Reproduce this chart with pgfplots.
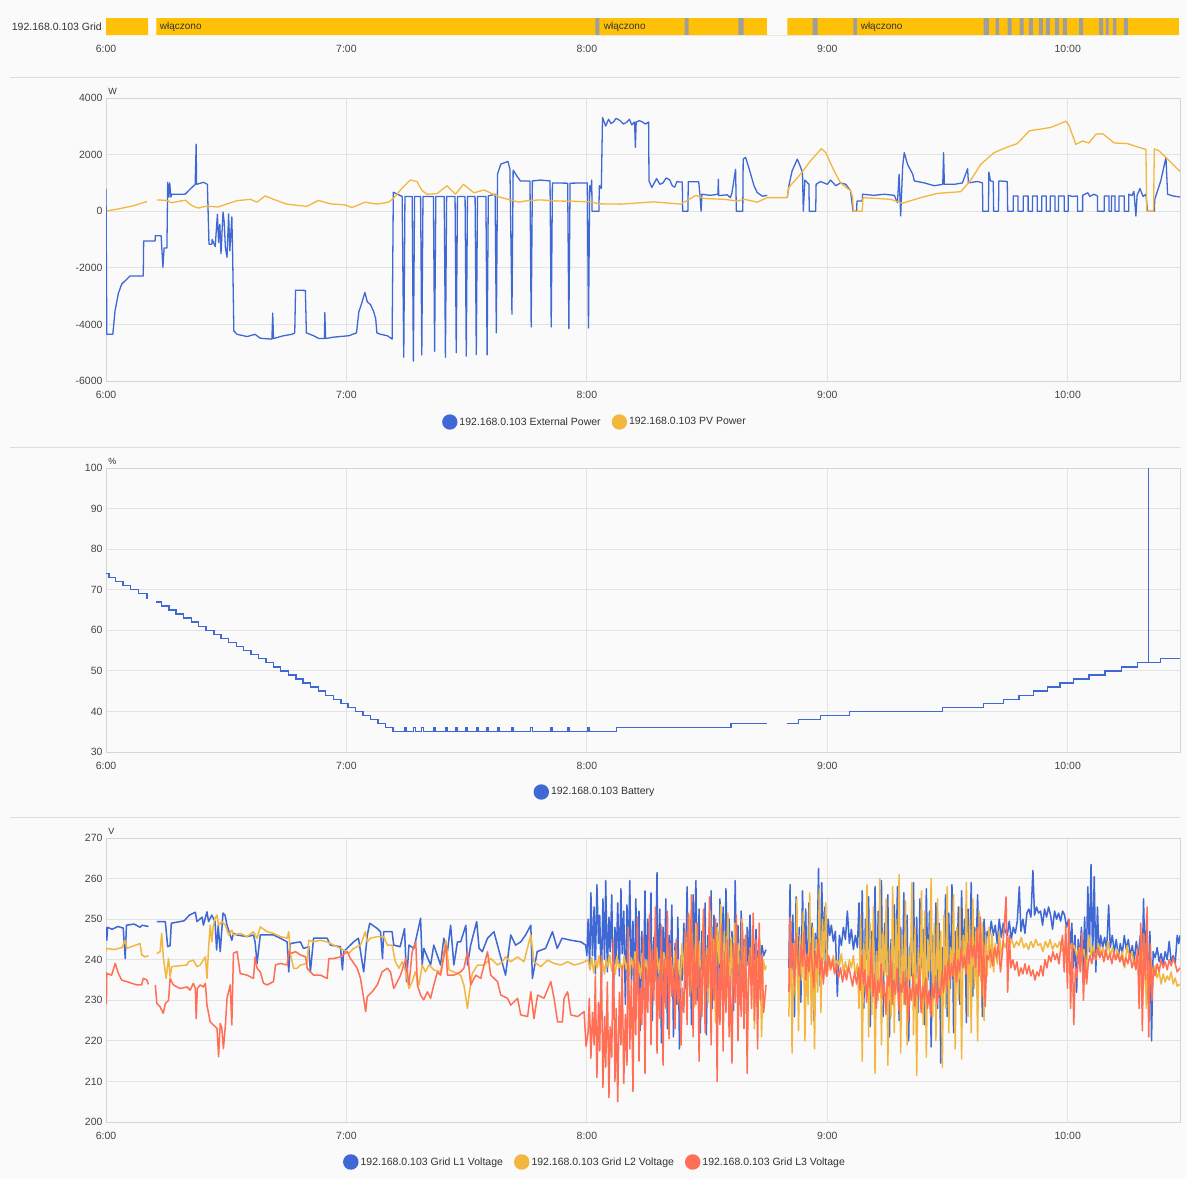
\documentclass[border=0pt]{standalone}
\usepackage{fontspec}
\setmainfont{Liberation Sans}
\usepackage{pgfplots}
\pgfplotsset{compat=1.18}
\definecolor{bgc}{HTML}{FAFAFA}
\definecolor{gridc}{HTML}{E3E3E3}
\definecolor{axisc}{HTML}{D5D5D5}
\definecolor{tickc}{HTML}{444444}
\definecolor{legc}{HTML}{333333}
\definecolor{sepc}{HTML}{DDDDDD}
\definecolor{c1}{HTML}{4068D5}
\definecolor{c2}{HTML}{F3B740}
\definecolor{c3}{HTML}{FF6E55}
\definecolor{amber}{HTML}{FFC107}
\definecolor{stripe}{HTML}{9E9E9E}
\pgfplotsset{
  panel/.style={
    scale only axis, width=1074pt, xmin=0, xmax=268,
    xtick={0,60,120,180,240}, xticklabels={6:00,7:00,8:00,9:00,10:00},
    axis line style={draw=axisc, line width=0.8pt},
    grid=major, major grid style={draw=gridc, line width=0.9pt},
    major tick length=0pt,
    clip mode=individual,
    tick label style={font=\fontsize{10.5}{12}\selectfont, text=tickc},
    xticklabel style={yshift=-6.5pt},
    unbounded coords=jump,
    legend columns=-1,
    legend style={draw=none, fill=none, font=\fontsize{10.5}{12}\selectfont, text=legc, anchor=center,
      /tikz/every even column/.append style={column sep=9pt}},
    legend image code/.code={\fill[##1] (0pt,0pt) circle (7pt);},
  }
}
\begin{document}
\begin{tikzpicture}
\path[use as bounding box, fill=bgc] (0pt,0pt) rectangle (1186pt,-1178pt);
\draw[sepc, line width=1pt] (10pt,-77pt) -- (1180pt,-77pt);
\draw[sepc, line width=1pt] (10pt,-447pt) -- (1180pt,-447pt);
\draw[sepc, line width=1pt] (10pt,-817pt) -- (1180pt,-817pt);
\node[anchor=east, inner sep=0pt, font=\fontsize{10.5}{12}\selectfont, text=legc] at (102pt,-26.5pt) {192.168.0.103 Grid};

% ---------- timeline ----------
\begin{axis}[panel, at={(106pt,-35pt)}, anchor=south west, height=17pt,
  ymin=0, ymax=1, ytick=\empty, grid=none, axis line style={draw=none}]
\addplot[ybar interval, fill=amber, draw=none] coordinates {(0,1) (10.5,0) (12.6,1) (164.9,0) (170.0,1) (267.7,1)};
\addplot[ybar interval, fill=stripe, draw=none] coordinates {
(122.1,1)(123.1,0)(144.4,1)(145.4,0)(157.8,1)(159.1,0)(176.3,1)(177.6,0)(186.5,1)(187.4,0)
(219.0,1)(220.3,0)(222.0,1)(222.8,0)(225.0,1)(226.0,0)(228.0,1)(229.0,0)(230.3,1)(231.3,0)
(232.8,1)(233.8,0)(234.5,1)(235.5,0)(236.8,1)(237.8,0)(238.8,1)(239.8,0)(242.8,1)(243.8,0)
(247.8,1)(248.8,0)(249.5,1)(250.2,0)(251.3,1)(252.1,0)(254.0,1)(255.0,0)};
\node[anchor=west, inner sep=0pt, font=\fontsize{10}{12}\selectfont, text=legc] at (axis cs:13.4,0.5) {włączono};
\node[anchor=west, inner sep=0pt, font=\fontsize{10}{12}\selectfont, text=legc] at (axis cs:124.2,0.5) {włączono};
\node[anchor=west, inner sep=0pt, font=\fontsize{10}{12}\selectfont, text=legc] at (axis cs:188.3,0.5) {włączono};
\end{axis}

% ---------- power ----------
\begin{axis}[panel, at={(106pt,-381pt)}, anchor=south west, height=283pt,
  ymin=-6000, ymax=4000, ytick={-6000,-4000,-2000,0,2000,4000},
  yticklabels={-6000,-4000,-2000,0,2000,4000},
  legend style={at={(0.4553,-0.1449)}}]
\addplot[c1, line width=1.3pt, line join=round] coordinates {
(0.0,800)(0.2,-4350)(1.7,-4350)(2.25,-3520)(3.1,-2900)(3.9,-2580)(5.2,-2400)(6.0,-2290)(9.3,-2290)(9.4,-1050)
(12.25,-1050)(12.3,-870)(13.75,-870)(14.2,-1980)(14.5,-1300)(15.2,-1300)(15.4,1020)(15.7,500)(15.9,1000)(16.2,500)
(16.4,600)(19.75,600)(21,780)(22.25,950)(22.5,2370)(22.6,950)(24.3,1020)(25.3,950)(25.7,-1170)(26.4,-1170)
(26.5,-1000)(27.25,-1250)(27.8,-110)(28.1,-1100)(28.4,-460)(28.7,-1500)(29.2,-30)(29.5,-400)(29.8,-1300)(30.2,-1630)
(30.6,-100)(30.9,-1400)(31.4,-200)(31.6,-1500)(31.9,-4230)(32.7,-4350)(35.2,-4430)(37.2,-4350)(38.5,-4490)(41.4,-4520)
(41.6,-3600)(41.8,-4500)(44.3,-4400)(46.4,-4350)(47.1,-4300)(47.3,-2790)(49.75,-2800)(50,-4300)(51.8,-4400)(53.1,-4500)
(54.5,-4500)(54.6,-3580)(54.8,-4500)(56.8,-4450)(60.6,-4400)(62.5,-4300)(63.1,-3550)(63.7,-3300)(64.6,-2870)(65.2,-3200)
(66,-3300)(66.8,-3550)(67.3,-3800)(67.6,-4300)(68.5,-4350)(70.2,-4400)(71.4,-4520)(71.7,670)(73.9,520)(74.3,-5160)
(74.6,520)(76.4,520)(76.7,-5300)(77.0,520)(78.5,520)(78.8,-5080)(79.1,520)(81.7,520)(82.0,-4950)(82.3,520)
(84.4,520)(84.7,-5160)(85.0,520)(87.1,520)(87.4,-5000)(87.7,520)(89.6,520)(89.9,-5120)(90.2,520)(92.1,520)
(92.4,-5060)(92.7,520)(94.8,520)(95.1,-5080)(95.4,540)(97.1,600)(97.4,-4300)(97.7,1310)(98.5,1660)(100.3,1760)
(100.8,1480)(101.3,-3640)(101.6,1450)(102.5,1250)(103.4,1070)(105.8,1070)(106.1,-4090)(106.4,1070)(108.4,1100)(110.8,1070)
(111.1,-4090)(111.4,1000)(115.2,990)(115.5,-4150)(115.8,990)(120.1,1000)(120.4,-4130)(120.7,900)(121.0,700)(121.2,1100)
(121.3,0)(123.0,0)(123.1,900)(123.6,800)(123.9,3310)(124.7,3010)(125.4,3250)(126.0,3100)(126.6,3150)(127.3,3280)
(128.3,3200)(129.1,3080)(130.0,3150)(130.6,3250)(131.2,3050)(131.9,3150)(132.1,2260)(132.3,3150)(133.1,3200)(133.9,3150)
(134.6,3080)(135.4,3150)(135.5,1070)(136.2,840)(137.4,1150)(138.2,950)(139.0,1000)(139.8,1180)(140.7,1100)(141.3,900)
(141.9,850)(142.5,1050)(143.1,1030)(143.8,1030)(143.9,0)(145.2,0)(145.3,1040)(147.9,1040)(148.2,600)(148.5,0)
(148.7,600)(150.8,560)(152.7,600)(152.8,1130)(152.9,550)(155.0,580)(155.8,480)(156.2,650)(157.1,1480)(157.3,0)
(158.9,0)(159.0,1840)(159.6,1900)(160.4,1540)(161.7,900)(162.5,660)(163.8,530)(165.0,560)(167,nan)
(170.0,480)(170.4,900)(171.2,1420)(172.5,1840)(173.2,1600)(173.8,1370)(174.0,0)(174.4,1100)(175.4,950)(175.5,0)
(177.1,0)(177.2,950)(178.3,1050)(180.0,950)(180.8,1100)(182.1,900)(183.3,1000)(184.6,950)(185.8,720)(186.4,0)
(187.3,0)(187.4,360)(188.7,360)(188.8,600)(191.6,560)(194.2,600)(196.7,560)(197.5,300)(197.9,1300)(198.3,-170)
(198.8,1600)(199.2,2070)(200.0,1660)(201.3,1310)(201.7,1070)(204.2,1000)(206.7,900)(208.8,950)(209.0,2070)(209.2,950)
(211.7,950)(213.7,1000)(215.0,1500)(215.2,1000)(217.5,1050)(218.7,1000)(218.8,0)(220.2,0)(220.3,1380)(220.7,1070)
(221.4,1050)(221.5,0)(222.7,0)(222.8,1070)(224.9,1050)(225.0,0)(226.4,0)(226.4,540)(227.6,540)(227.6,0)
(228.9,0)(228.9,540)(230.1,540)(230.1,0)(231.2,0)(231.2,540)(232.4,540)(232.4,0)(233.5,0)(233.5,540)
(234.6,540)(234.6,0)(235.6,0)(235.6,540)(236.8,540)(236.8,0)(237.7,0)(237.7,540)(239.1,540)(239.1,0)
(240.1,0)(240.1,560)(241.2,520)(242.4,540)(242.4,0)(243.7,0)(243.7,560)(245.0,650)(245.5,520)(246.5,600)
(247.4,540)(247.4,0)(249.1,0)(249.1,540)(250.3,540)(250.3,0)(250.9,0)(250.9,540)(251.8,540)(251.8,0)
(252.8,0)(252.8,540)(254.1,540)(254.1,0)(255.2,0)(255.2,600)(256.0,550)(256.5,700)(257.0,-170)(257.3,560)
(258.0,800)(258.8,520)(259.5,600)(259.9,0)(261.6,0)(261.7,420)(263.2,1070)(264.5,1900)(264.9,600)(266.2,540)(268.0,500)};
\addlegendentry{192.168.0.103 External Power}
\addplot[c2, line width=1.3pt, line join=round] coordinates {
(0.2,10)(2.7,70)(6.8,190)(10.2,340)(11,nan)(12.7,400)(15.2,380)(16.4,300)(19.75,390)(21.4,200)
(23.0,110)(25.1,180)(28.0,150)(30.1,250)(32.6,370)(36.0,420)(37.7,320)(39.7,540)(41.8,420)(45.1,250)
(50.1,170)(53.0,380)(56.0,260)(59.7,220)(61.4,130)(64.7,320)(67.6,250)(70.5,320)(71.7,450)(73.8,800)
(75.9,1100)(77.6,1050)(78.8,740)(80.1,600)(82.6,620)(85.1,900)(87.2,600)(89.2,950)(91.8,650)(94.3,750)
(96.7,600)(98.4,490)(103.0,320)(105.0,370)(108.4,400)(112.6,360)(116.7,350)(120.9,330)(123.0,260)(128.4,250)
(136.7,330)(143.4,250)(145.9,450)(147.2,560)(149.2,450)(154.2,420)(157.6,360)(159.3,420)(162.5,320)(165.0,480)
(170.0,480)(170.4,840)(173.3,1310)(175.8,1780)(177.5,2050)(178.5,2210)(179.6,2070)(181.7,1420)(183.3,1000)(185.8,720)
(186.3,500)(186.5,0)(188.7,0)(188.9,480)(195.8,420)(198.7,280)(203.3,480)(207.5,630)(213.3,690)(215.8,1100)
(218.3,1660)(221.6,2070)(225.0,2270)(227.4,2390)(230.4,2840)(235.8,2960)(237.5,3060)(239.5,3180)(240.3,3030)(242.0,2360)
(243.7,2480)(245.3,2410)(247.0,2720)(248.7,2740)(251.6,2410)(254.9,2390)(257.4,2270)(259.5,2180)(259.7,0)(261.4,0)
(261.6,2200)(262.8,2130)(264.1,1950)(266.2,1660)(268.0,1400)};
\addlegendentry{192.168.0.103 PV Power}
\node[anchor=south west, inner sep=0pt, font=\fontsize{9}{10}\selectfont, text=legc] at (rel axis cs:0.002,1.012) {W};
\end{axis}

% ---------- battery ----------
\begin{axis}[panel, at={(106pt,-752pt)}, anchor=south west, height=284pt,
  ymin=30, ymax=100, ytick={30,40,50,60,70,80,90,100},
  yticklabels={30,40,50,60,70,80,90,100},
  legend style={at={(0.4553,-0.1408)}}]
\addplot[c1, line width=1.4pt, const plot] coordinates {
(0,74)(0.7,73)(2.3,72)(4.2,71)(6.1,70)(8.1,69)(10.2,68)(10.5,68)(11,nan)
(12.5,67)(13.8,66)(15.7,65)(17.5,64)(19.4,63)(21.3,62)(23.1,61)(25.0,60)(26.9,59)(28.7,58)
(30.6,57)(32.5,56)(34.3,55)(36.2,54)(38.0,53)(39.9,52)(41.8,51)(43.6,50)(45.5,49)(47.4,48)
(49.2,47)(51.1,46)(53.0,45)(54.8,44)(56.7,43)(58.6,42)(60.4,41)(62.3,40)(64.1,39)(66.0,38)
(67.9,37)(69.7,36)(71.6,35)
(74.6,36)(75.0,35)(76.8,36)(77.2,35)(78.8,36)(79.2,35)(81.8,36)(82.2,35)(84.7,36)(85.1,35)
(87.3,36)(87.7,35)(89.7,36)(90.1,35)(92.4,36)(92.8,35)(94.9,36)(95.3,35)(97.7,36)(98.1,35)
(101.3,36)(101.7,35)(106.0,36)(106.4,35)(110.9,36)(111.3,35)(115.3,36)(115.7,35)(120.3,36)(120.7,35)
(127.4,36)(156.0,37)(165.0,37)(167,nan)
(170.0,37)(172.8,38)(178.3,39)(185.6,40)(208.7,41)(219.0,42)(223.9,43)(227.8,44)(231.4,45)(234.9,46)
(238.1,47)(241.4,48)(245.3,49)(249.3,50)(253.4,51)(257.4,52)(260.1,100)(260.2,52)(263.2,53)(268,53)};
\addlegendentry{192.168.0.103 Battery}
\node[anchor=south west, inner sep=0pt, font=\fontsize{9}{10}\selectfont, text=legc] at (rel axis cs:0.002,1.012) {\%};
\end{axis}

% ---------- voltage ----------
\begin{axis}[panel, at={(106pt,-1122pt)}, anchor=south west, height=284pt,
  ymin=200, ymax=270, ytick={200,210,220,230,240,250,260,270},
  yticklabels={200,210,220,230,240,250,260,270},
  legend style={at={(0.4553,-0.1408)}}]
\addplot[c1, line width=1.5pt, line join=round] coordinates {
(0,248)(0.2,244.8)(0.4,248)(1.5,247.5)(3,248.2)(4.3,247.8)(4.8,240.3)(5.1,248.5)(7,248.8)(8.5,248)
(9,248.5)(10.6,248.2)(11.5,nan)(12.7,249.4)(14.8,249.4)(15.4,243.2)(16,243.5)(16.3,249)(19.5,249.6)(20.8,251)
(22.3,251.7)(22.7,249.4)(24,250.5)(24.3,248.5)(25.2,251.8)(25.6,249.4)(26.4,251)(27.2,249.4)(27.6,242.4)(28,248.5)
(28.5,242)(29.2,251.5)(29.7,251)(30.2,248.5)(31.4,244.8)(31.8,246.5)(32.7,246.1)(35.2,245.7)(36.8,246.1)(37.2,244.4)
(37.7,239.1)(38.5,246.1)(41.8,246.1)(43.5,245.3)(45.2,244.4)(45.6,237)(46,244)(48.5,244.4)(49.3,242.8)(50.6,243.2)
(51,237)(51.8,245.3)(55.2,245.3)(56,243.6)(58.5,243.2)(59,237.5)(59.3,242)(61.8,244.4)(63,245.3)(64.3,237)
(65.2,246)(65.8,249)(67.7,247.7)(68.5,246.9)(69,240.3)(69.3,246.9)(71.4,246.9)(71.8,243.6)(73.4,243.2)(74.5,247.7)
(75,234.6)(75.6,243.6)(76.8,242.8)(77.2,244.4)(78.5,250.2)(78.9,238.7)(79.3,242.8)(81,238.7)(81.8,243.6)(83.5,238.7)
(84.3,245.3)(85.2,242)(86,248.5)(86.8,238.7)(87.7,244.4)(88.5,244.4)(89.8,248.5)(90.2,238.7)(91,243.6)(92.5,249.4)
(93.1,242.8)(93.9,242)(95.2,245.3)(96.8,246.9)(97.7,243.6)(99.7,236.2)(101,246.1)(102.2,243.6)(103.5,244.4)(104.7,246.1)
(106,248.5)(106.4,235.4)(107.6,242)(109.7,242.8)(111.4,246.9)(112.6,242.8)(113.8,245.3)(116,244.8)(118.5,244.4)(119.7,243.6)
(120.0,241)
(120.3,250.0)(120.7,238.0)(121.0,256.5)(121.4,241.0)(121.8,253.0)(122.1,236.5)(122.5,258.5)(122.9,244.0)(123.2,251.0)(123.6,233.5)
(124.0,255.0)(124.4,240.0)(124.7,259.5)(125.1,237.0)(125.5,250.5)(125.8,242.0)(126.2,256.0)(126.6,231.0)(127.0,248.0)(127.3,239.0)
(127.7,254.0)(128.1,236.0)(128.5,257.5)(128.8,241.5)(129.2,252.0)(129.6,229.0)(130.0,253.5)(130.3,238.0)(130.7,259.5)(131.1,235.0)
(131.5,249.5)(131.8,226.0)(132.2,255.0)(132.6,239.0)(133.0,252.0)(133.3,222.5)(133.7,247.0)(134.1,234.0)(134.5,257.0)(134.8,230.5)
(135.2,250.0)(135.6,241.0)(136.0,256.5)(136.3,225.0)(136.7,245.5)(137.1,236.0)(137.5,261.5)(137.8,229.0)(138.2,252.5)(138.6,219.5)
(139.0,248.0)(139.3,233.0)(139.7,255.0)(140.1,223.0)(140.5,246.0)(140.8,237.0)(141.2,253.5)(141.6,221.0)(142.0,244.0)(142.3,229.0)
(142.7,250.5)(143.1,218.0)(143.5,241.0)(143.8,235.0)(144.2,249.0)(144.6,233.0)(145.0,258.0)(145.3,238.0)(145.7,250.0)(146.1,224.0)
(146.5,256.0)(146.8,240.0)(147.2,259.5)(147.6,230.0)(148.0,252.5)(148.3,222.0)(148.7,247.0)(149.1,236.0)(149.5,254.0)(149.8,221.5)
(150.2,246.0)(150.6,239.0)(151.0,257.0)(151.3,228.0)(151.7,251.0)(152.1,243.0)(152.5,249.0)(152.8,226.0)(153.2,255.0)(153.6,237.5)
(154.0,253.0)(154.3,231.0)(154.7,257.5)(155.1,240.5)(155.5,250.0)(155.8,233.0)(156.2,247.0)(156.6,227.5)(157.0,259.5)(157.3,241.0)
(157.7,248.5)(158.1,229.0)(158.5,252.0)(158.8,237.0)(159.2,245.0)(159.6,232.0)(160.0,248.0)(160.3,238.5)(160.7,251.0)(161.1,234.0)
(161.5,244.0)(161.8,240.0)(162.2,247.5)(162.6,236.0)(163.0,245.0)(163.3,240.0)(163.7,243.5)(164.1,241.0)(164.7,242.5)(167,nan)
(170.4,238.0)(170.7,258.5)(171.0,233.0)(171.4,251.0)(171.8,226.0)(172.2,255.5)(172.6,236.0)(173.0,248.0)(173.4,229.5)(173.8,257.0)
(174.2,241.0)(174.6,252.5)(175.0,231.0)(175.4,254.0)(175.8,237.0)(176.2,249.0)(176.6,225.0)(177.0,246.5)(177.4,239.0)(177.8,262.5)
(178.2,233.5)(178.6,259.0)(179.0,244.0)(179.4,253.0)(179.8,236.0)(180.2,250.0)(180.6,246.0)(181.0,248.5)(181.5,244.5)(182.0,247.0)
(182.5,231.0)(183.0,246.0)(183.5,243.5)(184.0,248.0)(184.5,245.0)(185.0,252.0)(185.5,244.0)(186.0,247.5)(186.5,242.5)(187.0,246.0)
(187.5,243.0)(187.9,254.0)(188.3,236.0)(188.7,257.0)(189.1,228.0)(189.5,250.0)(189.9,240.0)(190.3,255.5)(190.7,223.5)(191.1,247.0)
(191.5,235.0)(191.9,258.0)(192.3,230.0)(192.7,252.0)(193.1,242.0)(193.5,259.5)(193.9,226.0)(194.3,249.0)(194.7,237.0)(195.1,256.0)
(195.5,221.0)(195.9,245.0)(196.3,232.0)(196.7,253.5)(197.1,239.0)(197.5,258.0)(197.9,225.0)(198.3,248.0)(198.7,234.0)(199.1,256.5)
(199.5,229.0)(199.9,251.0)(200.3,220.0)(200.7,244.0)(201.1,236.0)(201.5,259.0)(201.9,231.0)(202.3,250.5)(202.7,227.0)(203.1,255.0)
(203.5,238.0)(203.9,247.5)(204.3,224.0)(204.7,257.5)(205.1,235.0)(205.5,252.0)(205.9,218.5)(206.3,246.0)(206.7,232.0)(207.1,254.0)
(207.5,228.0)(207.9,249.0)(208.3,214.5)(208.7,243.0)(209.1,237.0)(209.5,256.0)(209.9,226.0)(210.3,251.5)(210.7,233.0)(211.1,258.5)
(211.5,222.0)(211.9,247.0)(212.3,236.0)(212.7,253.0)(213.1,229.0)(213.5,257.0)(213.9,240.0)(214.3,250.0)(214.7,224.5)(215.1,252.5)
(215.5,238.0)(215.9,259.0)(216.3,231.0)(216.7,248.0)(217.1,242.0)(217.5,256.0)(217.9,237.0)(218.3,246.0)(218.7,226.0)(219.1,250.0)
(219.5,243.0)(219.9,247.0)(220.4,245.5)(220.9,249.5)(221.4,246.0)(221.9,248.5)(222.4,244.0)(222.9,250.0)(223.4,245.5)(223.9,249.0)
(224.4,247.0)(224.9,246.0)(225.4,249.5)(225.9,245.0)(226.4,248.0)(226.9,246.5)(227.4,249.5)(227.9,258.0)(228.3,247.0)(228.8,250.0)
(229.3,246.5)(229.8,251.5)(230.3,252.5)(230.8,250.5)(231.3,262.0)(231.7,251.0)(232.2,253.0)(232.7,251.5)(233.2,252.0)(233.7,248.5)
(234.2,252.5)(234.7,250.5)(235.2,253.0)(235.7,251.0)(236.2,247.5)(236.7,252.0)(237.2,250.0)(237.7,251.5)(238.2,249.5)(238.7,252.0)
(239.2,251.0)(239.7,248.0)(240.2,250.0)(240.6,243.0)(241.0,249.0)(241.4,238.0)(241.8,246.0)(242.2,232.0)(242.6,245.0)(243.0,240.0)
(243.4,248.0)(243.8,236.0)(244.2,250.5)(244.6,238.0)(245.0,258.0)(245.4,242.0)(245.8,263.5)(246.2,240.0)(246.6,260.5)(247.0,237.0)
(247.4,253.0)(247.8,241.0)(248.2,246.0)(248.7,243.0)(249.2,245.5)(249.7,242.5)(250.2,253.5)(250.6,243.0)(251.1,246.0)(251.6,242.0)
(252.1,245.0)(252.6,240.5)(253.1,244.0)(253.6,241.5)(254.1,246.0)(254.6,242.5)(255.1,245.0)(255.6,241.0)(256.1,243.5)(256.6,240.0)
(257.1,244.5)(257.6,241.0)(258.1,246.0)(258.5,233.0)(258.9,255.0)(259.3,238.0)(259.7,251.0)(260.1,229.0)(260.5,247.0)(260.9,220.0)
(261.3,242.0)(261.8,240.5)(262.3,243.0)(262.8,239.5)(263.3,241.5)(263.8,239.0)(264.3,242.0)(264.8,240.0)(265.3,244.5)(265.8,239.5)
(266.3,241.0)(266.8,239.0)(267.3,246.0)(267.7,244.0)(268.0,246.0)};
\addlegendentry{192.168.0.103 Grid L1 Voltage}
\addplot[c2, line width=1.5pt, line join=round] coordinates {
(0,242)(0.2,242.8)(2,242.5)(4,243)(4.8,244.8)(5.2,242.8)(8.5,244)(8.9,241.2)(9.8,240.7)(10.6,241)
(11.5,nan)(12.7,241.5)(13.5,242)(13.9,246.5)(14.3,240.7)(15,235.4)(15.6,240.3)(16,235.8)(16.4,238.3)(20.2,238.7)
(20.6,239.5)(21.8,239.9)(22.7,238.3)(23.5,238.7)(24.8,240.7)(25.2,235.4)(25.6,242.8)(26,248.5)(26.4,244.4)(26.8,248.5)
(27.2,250.2)(27.7,251)(28.1,248.5)(28.9,249.4)(29.8,248.5)(30.6,246.1)(31.4,247.3)(31.8,246.1)(33.5,246.5)(35.2,245.7)
(36.8,246.9)(37.7,245.3)(38.5,248.1)(40.2,246.9)(41.8,246.5)(43.5,245.7)(45.2,245.3)(45.6,246.9)(46,241.6)(46.8,237.9)
(47.7,237.9)(48.5,238.7)(50.2,239.1)(50.6,244.8)(51.8,244.4)(53.5,244.8)(55.2,244.4)(56.8,243.6)(58.5,242.8)(59.3,242.4)
(60.6,241.6)(61.8,242.8)(63.5,243.6)(64.7,246.9)(65.2,244.4)(66,245.3)(67.7,245.7)(69.3,245.7)(70.2,243.6)(71.4,243.6)
(72.2,239.5)(73.1,237.9)(73.9,239.5)(74.8,237)(75.6,232.9)(76.4,234.6)(77.2,237)(78.1,233.8)(78.9,238.7)(79.7,237)
(80.6,238.7)(81.8,237.5)(83.5,237)(84.8,244.8)(85.6,237.5)(86.8,237)(88.5,236.2)(89.3,233.8)(90.2,228)(90.6,231.3)
(91.4,236.6)(92.7,238.7)(94.3,238.7)(96,240.3)(97.7,238.7)(98.9,239.5)(99.7,240.7)(101,239.5)(102.7,240.7)(104.3,239.5)
(106,246.1)(106.8,239.5)(108.5,238.3)(110.2,239.9)(111.8,239.1)(113.5,238.7)(115.2,239.5)(116.8,238.7)(118.5,239.1)
(120.3,240.0)(120.8,237.5)(121.2,240.5)(121.7,236.8)(122.1,239.8)(122.6,238.0)(123.0,241.0)(123.5,237.0)(123.9,239.5)(124.4,236.5)
(124.8,240.2)(125.3,238.2)(125.7,241.2)(126.2,237.2)(126.6,239.6)(127.1,236.4)(127.5,240.8)(128.0,238.0)(128.4,239.2)(128.9,236.8)
(129.3,241.0)(129.8,237.6)(130.2,239.8)(130.7,236.2)(131.1,240.4)(131.6,238.0)(132.0,242.0)(132.5,236.0)(132.9,239.5)(133.4,235.4)
(133.8,241.6)(134.3,237.5)(134.7,240.0)(135.2,235.8)(135.6,242.4)(136.1,237.0)(136.5,239.2)(137.0,234.8)(137.4,243.0)(137.9,236.6)
(138.3,240.4)(138.8,235.6)(139.2,241.8)(139.7,237.4)(140.1,243.5)(140.6,236.0)(141.0,240.6)(141.5,234.5)(141.9,242.2)(142.4,237.8)
(142.8,240.0)(143.3,233.0)(143.7,244.0)(144.2,236.5)(144.6,247.0)(145.0,238.0)(145.5,251.0)(145.9,232.0)(146.3,246.5)(146.8,228.5)
(147.2,249.0)(147.7,237.0)(148.1,244.5)(148.6,226.0)(149.0,250.5)(149.4,234.0)(149.9,243.0)(150.3,229.5)(150.8,252.0)(151.2,236.5)
(151.6,245.0)(152.1,224.5)(152.5,248.0)(153.0,239.0)(153.4,253.5)(153.8,231.0)(154.3,247.0)(154.7,235.0)(155.2,251.5)(155.6,227.0)
(156.0,245.5)(156.5,233.5)(156.9,249.0)(157.4,238.0)(157.8,244.0)(158.3,228.0)(158.7,250.0)(159.1,236.0)(159.6,246.0)(160.0,219.5)
(160.5,241.0)(160.9,234.0)(161.3,247.5)(161.8,223.0)(162.2,243.0)(162.7,236.0)(163.1,245.5)(163.6,221.0)(164.0,240.0)(164.5,237.5)
(164.7,238.5)(167,nan)
(170.4,226.0)(170.8,250.0)(171.2,217.0)(171.6,244.0)(172.0,231.0)(172.4,255.0)(172.8,222.5)(173.2,246.0)(173.6,235.0)(174.0,252.0)
(174.4,220.0)(174.8,241.0)(175.2,229.0)(175.6,256.5)(176.0,224.0)(176.4,248.0)(176.8,218.0)(177.2,245.0)(177.6,232.0)(178.0,257.5)
(178.4,227.0)(178.8,250.0)(179.2,239.0)(179.6,254.0)(180.0,236.0)(180.5,240.5)(181.0,238.0)(181.5,241.0)(182.0,237.5)(182.5,240.0)
(183.0,238.5)(183.5,241.5)(184.0,237.0)(184.5,239.5)(185.0,236.5)(185.5,240.0)(186.0,238.0)(186.5,241.0)(187.0,236.0)(187.5,239.0)
(187.9,228.0)(188.3,251.0)(188.7,215.0)(189.1,244.0)(189.5,232.0)(189.9,258.5)(190.3,221.0)(190.7,249.0)(191.1,226.5)(191.5,253.0)
(191.9,212.0)(192.3,242.0)(192.7,230.0)(193.1,260.0)(193.5,219.0)(193.9,247.0)(194.3,236.0)(194.7,255.0)(195.1,214.0)(195.5,243.0)
(195.9,226.0)(196.3,258.0)(196.7,222.0)(197.1,250.0)(197.5,233.0)(197.9,261.0)(198.3,217.0)(198.7,246.0)(199.1,229.0)(199.5,254.5)
(199.9,219.0)(200.3,241.0)(200.7,235.0)(201.1,259.0)(201.5,221.5)(201.9,248.0)(202.3,211.5)(202.7,243.0)(203.1,231.0)(203.5,257.0)
(203.9,224.0)(204.3,252.0)(204.7,216.0)(205.1,245.0)(205.5,237.0)(205.9,260.0)(206.3,226.0)(206.7,249.0)(207.1,220.0)(207.5,255.0)
(207.9,232.0)(208.3,247.0)(208.7,213.5)(209.1,251.0)(209.5,228.0)(209.9,258.0)(210.3,222.0)(210.7,243.0)(211.1,236.0)(211.5,256.0)
(211.9,218.0)(212.3,248.0)(212.7,230.0)(213.1,253.0)(213.5,215.5)(213.9,246.0)(214.3,238.0)(214.7,259.0)(215.1,226.0)(215.5,250.0)
(215.9,222.0)(216.3,255.0)(216.7,233.0)(217.1,247.0)(217.5,220.0)(217.9,252.0)(218.3,235.0)(218.7,249.0)(219.1,225.0)(219.5,246.0)
(219.9,236.0)(220.3,248.0)(220.7,238.0)(221.1,246.5)(221.5,237.0)(221.9,244.0)(222.4,239.0)(222.9,247.0)(223.4,240.5)(223.9,244.5)
(224.4,243.0)(224.9,245.5)(225.4,243.5)(226.0,245.0)(226.6,243.0)(227.2,244.5)(227.8,243.5)(228.4,245.5)(229.0,243.0)(229.6,244.0)
(230.2,242.5)(230.8,244.5)(231.4,243.0)(232.0,245.0)(232.6,243.5)(233.2,244.0)(233.8,242.0)(234.4,244.5)(235.0,243.0)(235.6,245.0)
(236.2,242.5)(236.8,244.0)(237.4,243.0)(238.0,244.5)(238.6,242.0)(239.2,243.5)(239.8,242.0)(240.4,244.0)(241.0,242.5)(241.6,243.5)
(242.2,241.0)(242.8,243.0)(243.4,240.5)(244.0,242.5)(244.6,237.0)(245.2,246.0)(245.8,241.0)(246.4,243.5)(247.0,240.0)(247.6,244.0)
(248.2,241.5)(248.8,243.0)(249.4,240.5)(250.0,244.5)(250.6,241.0)(251.2,243.0)(251.8,240.0)(252.4,242.5)(253.0,239.5)(253.6,242.0)
(254.2,238.0)(254.8,243.5)(255.4,240.0)(256.0,242.0)(256.6,238.5)(257.2,241.0)(257.8,239.0)(258.4,246.5)(258.8,231.0)(259.2,244.0)
(259.6,228.0)(260.0,240.0)(260.4,235.0)(260.8,239.0)(261.3,236.0)(261.8,238.5)(262.3,235.5)(262.8,237.0)(263.3,234.0)(263.8,236.5)
(264.3,234.5)(264.8,236.0)(265.3,235.0)(265.8,237.0)(266.3,234.0)(266.8,235.5)(267.3,233.5)(268.0,234.0)};
\addlegendentry{192.168.0.103 Grid L2 Voltage}
\addplot[c3, line width=1.5pt, line join=round] coordinates {
(0,237)(0.1,229.2)(0.2,236.6)(1.4,236.2)(2.3,239.1)(3.1,236.6)(3.9,235)(5.2,234.6)(6.4,234.2)(7.7,233.8)
(8.9,233.8)(9.3,235.4)(10.2,235)(10.6,233.9)(11.5,nan)(12.3,233.8)(12.7,229.2)(13.5,228.4)(14.3,226.8)(14.8,229.2)
(15.6,230)(16,235.4)(16.8,233.8)(18.5,232.9)(20.2,233.3)(21,232.5)(21.8,234.2)(22.3,232.9)(22.5,225.5)(22.8,232.9)
(23.5,233.8)(24.3,233.3)(24.8,234.2)(25.2,228.8)(26,224.7)(26.8,223.9)(27.7,223.1)(28.1,216.1)(28.5,224.3)(28.9,223.1)
(29.3,218.1)(29.8,223.9)(30.2,230.5)(31,233.8)(31.4,223.9)(31.8,241.6)(32.7,242)(33.5,236.6)(35.2,236.2)(36.8,235.4)
(37.2,240.7)(37.7,237.9)(38.5,237)(39.3,234.2)(40.2,233.8)(41.8,234.6)(42.3,238.7)(43.5,239.1)(45.2,238.7)(45.6,242)
(46.4,241.6)(47.3,242)(48.5,241.2)(49.8,240.7)(50.2,237.9)(51,237)(51.8,236.2)(53.5,236.2)(55.2,235.4)(55.6,240.3)
(56.8,240.3)(58.5,240.7)(60.2,242)(61,240.3)(62.7,237.9)(63.5,235.4)(64.3,230.5)(64.8,227.2)(65.2,230.9)(66.4,232.1)
(67.7,233.8)(68.9,237)(70.2,237.9)(71,237)(71.8,232.9)(72.7,234.6)(73.5,236.2)(74.8,240.3)(75.6,233.8)(76.4,242)
(77.3,244.4)(77.7,233.8)(78.5,231.3)(79.3,230.1)(80.2,232.1)(81,230.5)(81.8,233.8)(82.7,237)(83.5,236.2)(84.8,243.6)
(85.2,236.2)(86.8,236.2)(88.5,237)(89.3,237.9)(90.2,242)(91,233.8)(92.3,236.2)(93.5,235.4)(95.2,242)(96,236.2)
(97.7,234.6)(98.5,231.3)(100.2,230.5)(101,228.8)(102.7,230.5)(103.5,226.4)(105.2,226)(106,232.1)(106.8,225.5)(107.7,231.3)
(109.3,230.5)(111,234.6)(111.8,230.5)(112.7,224.7)(113.9,224.7)(114.3,230.5)(115.2,232.1)(116,226.4)(117.7,226)(119.3,227.2)
(119.8,218.6)
(120.3,222.0)(120.6,230.5)(121.0,215.7)(121.4,227.0)(121.8,219.0)(122.1,236.0)(122.5,211.0)(122.9,229.5)(123.2,217.5)(123.6,241.0)
(124.0,208.5)(124.4,226.0)(124.7,213.5)(125.1,234.5)(125.5,206.0)(125.8,223.5)(126.2,216.0)(126.6,245.0)(127.0,210.0)(127.3,228.0)
(127.7,205.0)(128.1,232.0)(128.5,219.0)(128.8,238.5)(129.2,209.5)(129.6,226.5)(130.0,214.0)(130.3,248.0)(130.7,218.0)(131.1,235.0)
(131.5,207.5)(131.8,240.0)(132.2,221.5)(132.6,250.5)(133.0,215.0)(133.3,233.0)(133.7,224.0)(134.1,246.0)(134.5,212.0)(134.8,238.0)
(135.2,227.0)(135.6,251.0)(136.0,219.0)(136.3,242.5)(136.7,230.0)(137.1,253.0)(137.5,217.0)(137.8,236.0)(138.2,225.5)(138.6,248.5)
(139.0,214.0)(139.3,240.0)(139.7,228.0)(140.1,252.0)(140.5,220.5)(140.8,244.0)(141.2,231.0)(141.6,238.0)(142.0,223.0)(142.3,245.0)
(142.7,229.0)(143.1,236.0)(143.5,219.0)(143.8,233.0)(144.2,227.0)(144.6,247.0)(145.0,224.0)(145.3,251.5)(145.7,231.0)(146.1,256.0)
(146.5,221.0)(146.8,243.0)(147.2,229.0)(147.6,249.0)(148.0,215.0)(148.3,238.0)(148.7,226.0)(149.1,252.5)(149.5,222.0)(149.8,241.0)
(150.2,233.0)(150.6,255.5)(151.0,219.0)(151.3,246.0)(151.7,230.0)(152.1,250.0)(152.5,210.0)(152.8,239.0)(153.2,224.0)(153.6,248.5)
(154.0,217.5)(154.3,242.0)(154.7,227.0)(155.1,245.0)(155.5,221.0)(155.8,236.0)(156.2,214.5)(156.6,244.0)(157.0,229.5)(157.3,251.0)
(157.7,220.0)(158.1,239.0)(158.5,226.0)(158.8,249.0)(159.2,223.0)(159.6,246.0)(160.0,212.0)(160.3,235.0)(160.7,243.0)(161.1,228.0)
(161.5,251.5)(161.8,225.0)(162.2,245.0)(162.6,218.0)(163.0,249.0)(163.3,230.0)(163.7,241.0)(164.1,227.0)(164.7,233.8)(167,nan)
(170.4,232.0)(170.7,250.5)(171.0,238.0)(171.4,244.0)(171.8,233.5)(172.2,246.5)(172.6,240.0)(173.0,236.0)(173.4,243.5)(173.8,238.5)
(174.2,247.0)(174.6,235.0)(175.0,241.5)(175.4,237.0)(175.8,244.0)(176.2,239.0)(176.6,233.0)(177.0,242.0)(177.4,238.0)(177.8,245.0)
(178.2,236.5)(178.6,240.5)(179.0,234.0)(179.4,239.5)(179.8,236.0)(180.3,241.0)(180.8,237.5)(181.3,240.0)(181.8,236.5)(182.3,239.0)
(182.8,235.5)(183.3,238.0)(183.8,234.5)(184.3,237.5)(184.8,235.0)(185.3,238.5)(185.8,236.0)(186.3,233.5)(186.8,237.0)(187.3,234.0)
(187.8,238.0)(188.2,232.5)(188.6,241.0)(189.0,234.0)(189.4,237.5)(189.8,229.5)(190.2,236.0)(190.6,233.0)(191.0,243.0)(191.4,231.0)
(191.8,236.5)(192.2,228.0)(192.6,235.0)(193.0,232.0)(193.4,239.0)(193.8,230.5)(194.2,234.5)(194.6,226.5)(195.0,236.0)(195.4,233.5)
(195.8,240.5)(196.2,229.0)(196.6,235.0)(197.0,231.5)(197.4,238.0)(197.8,227.5)(198.2,234.0)(198.6,232.0)(199.0,237.0)(199.4,229.0)
(199.8,235.5)(200.2,225.0)(200.6,233.0)(201.0,230.0)(201.4,236.5)(201.8,228.5)(202.2,234.0)(202.6,231.0)(203.0,238.5)(203.4,227.0)
(203.8,233.5)(204.2,230.0)(204.6,235.5)(205.0,228.0)(205.4,232.5)(205.8,226.0)(206.2,234.0)(206.6,230.5)(207.0,236.0)(207.4,229.0)
(207.8,233.0)(208.2,231.0)(208.6,237.0)(209.0,232.0)(209.4,238.5)(209.8,233.0)(210.2,240.0)(210.6,235.0)(211.0,239.0)(211.4,236.0)
(211.8,241.5)(212.2,234.5)(212.6,240.0)(213.0,237.0)(213.4,243.0)(213.8,238.0)(214.2,241.0)(214.6,236.5)(215.0,244.0)(215.4,239.0)
(215.8,246.0)(216.2,240.5)(216.6,243.5)(217.0,238.0)(217.4,248.0)(217.8,236.0)(218.2,250.5)(218.6,231.0)(219.0,244.0)(219.4,228.5)
(219.8,241.0)(220.2,240.0)(220.7,242.5)(221.2,238.5)(221.7,243.0)(222.2,240.5)(222.7,244.0)(223.2,237.0)(223.7,242.0)(224.2,249.0)
(224.6,255.5)(225.0,232.0)(225.4,246.0)(225.8,238.0)(226.3,240.0)(226.8,237.5)(227.3,239.5)(227.8,236.0)(228.3,238.0)(228.8,236.5)
(229.3,239.0)(229.8,236.5)(230.3,238.5)(230.8,236.0)(231.3,237.5)(231.8,235.0)(232.3,237.0)(232.8,236.0)(233.3,238.5)(233.8,236.0)
(234.3,240.0)(234.8,238.0)(235.3,241.0)(235.8,239.5)(236.3,242.0)(236.8,240.0)(237.3,241.5)(237.8,239.0)(238.3,243.5)(238.7,246.0)
(239.1,237.0)(239.5,248.5)(239.9,233.0)(240.3,250.0)(240.7,228.0)(241.1,244.0)(241.5,224.0)(241.9,238.0)(242.3,235.5)(242.7,243.0)
(243.1,237.0)(243.5,246.5)(243.9,230.0)(244.3,240.5)(244.7,234.0)(245.1,239.0)(245.5,241.0)(246.0,239.0)(246.5,242.0)(247.0,240.0)
(247.5,243.0)(248.0,240.5)(248.5,242.0)(249.0,239.5)(249.5,242.5)(250.0,240.0)(250.5,241.5)(251.0,239.0)(251.5,242.0)(252.0,240.0)
(252.5,241.5)(253.0,239.5)(253.5,241.0)(254.0,238.5)(254.5,240.5)(255.0,239.0)(255.5,241.5)(256.0,238.0)(256.5,240.0)(257.0,237.5)
(257.4,243.0)(257.8,228.0)(258.2,249.0)(258.6,222.5)(259.0,246.5)(259.4,235.0)(259.8,253.0)(260.2,221.0)(260.6,244.0)(261.0,230.0)
(261.4,238.0)(261.8,236.0)(262.3,239.0)(262.8,237.0)(263.3,240.0)(263.8,238.0)(264.3,239.5)(264.8,237.5)(265.3,240.0)(265.8,238.5)
(266.3,240.5)(266.8,239.0)(267.3,237.0)(268.0,238.0)};
\addlegendentry{192.168.0.103 Grid L3 Voltage}
\node[anchor=south west, inner sep=0pt, font=\fontsize{9}{10}\selectfont, text=legc] at (rel axis cs:0.002,1.012) {V};
\end{axis}
\end{tikzpicture}
\end{document}
